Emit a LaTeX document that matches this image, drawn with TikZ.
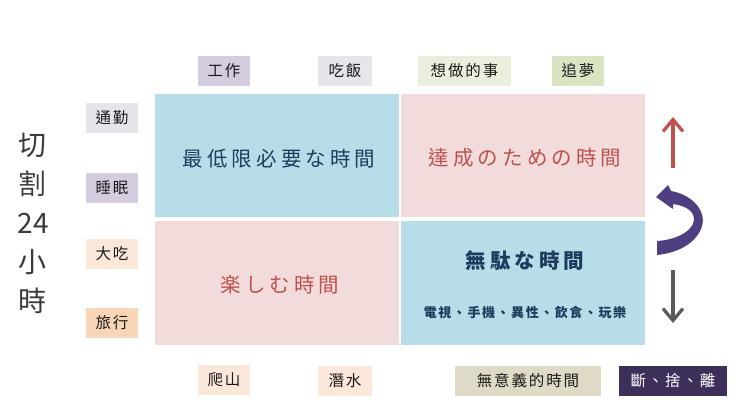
\documentclass[tikz,border=0pt]{standalone}
\usepackage{fontspec}
\newfontfamily\cjk{Noto Sans CJK TC}
\newfontfamily\cjkq[LetterSpace=20]{Noto Sans CJK TC}
\newfontfamily\cjkt[LetterSpace=12]{Noto Sans CJK TC}
\newfontfamily\cjks[LetterSpace=12]{Noto Sans CJK TC}
\usetikzlibrary{arrows.meta}
\definecolor{qblue}{HTML}{B7DDE8}
\definecolor{qpink}{HTML}{F2DCDB}
\definecolor{navy}{HTML}{1F3B5E}
\definecolor{qred}{HTML}{C0504D}
\definecolor{lav}{HTML}{D5CCE0}
\definecolor{lavl}{HTML}{E8E4EC}
\definecolor{grl}{HTML}{E9EFDC}
\definecolor{grn}{HTML}{D8E4C2}
\definecolor{peachl}{HTML}{FBE8DA}
\definecolor{peach}{HTML}{F9D5B8}
\definecolor{beige}{HTML}{DEDAC5}
\definecolor{dpurple}{HTML}{3E2F5A}
\definecolor{arrpurple}{HTML}{4F3E80}
\definecolor{arrgray}{HTML}{595959}
\definecolor{txt}{HTML}{1A1A1A}
\definecolor{ttl}{HTML}{3A3A3A}
\begin{document}
\begin{tikzpicture}[x=1pt,y=-1pt,
  tag/.style={inner sep=0pt, minimum height=30pt, text=txt, font=\cjkt\fontsize{15.5}{16}\selectfont},
  quad/.style={inner sep=0pt, minimum width=244pt},
  qtext/.style={inner sep=0pt, font=\cjkq\fontsize{20.5}{22}\selectfont},
  arr/.style={line width=3.5pt, -{Straight Barb[length=12pt,width=20pt,line width=3.2pt]}}
]
\useasboundingbox (0,0) rectangle (740,416);
\fill[white] (0,0) rectangle (740,416);
% quadrants
\node[quad, fill=qblue, minimum height=123pt] (tl) at (277,155.5) {};
\node[quad, fill=qpink, minimum height=123pt] (tr) at (523,155.5) {};
\node[quad, fill=qpink, minimum height=124pt] (bl) at (277,283) {};
\node[quad, fill=qblue, minimum height=124pt] (br) at (523,283) {};
\node[qtext, text=navy] (tlt) at (279,159) {最低限必要な時間};
\node[qtext, text=qred] (trt) at (525,158) {達成のための時間};
\node[qtext, text=qred] (blt) at (280,285) {楽しむ時間};
\node[qtext, text=navy, font=\cjkq\bfseries\fontsize{20.5}{22}\selectfont] (brt) at (525,261) {無駄な時間};
\node[inner sep=0pt, text=navy, font=\cjks\bfseries\fontsize{13}{13}\selectfont] (brs) at (525,312) {電視、手機、異性、飲食、玩樂};
% top tags
\node[tag, fill=lav, minimum width=52pt] (work) at (224,71) {工作};
\node[tag, fill=lavl, minimum width=54pt] (eat) at (345,71) {吃飯};
\node[tag, fill=grl, minimum width=93pt] (want) at (464.5,71) {想做的事};
\node[tag, fill=grn, minimum width=52pt] (dream) at (578,71) {追夢};
% left tags
\node[tag, fill=lavl, minimum width=52pt] (commute) at (112,118) {通勤};
\node[tag, fill=lav, minimum width=52pt] (sleep) at (112,188) {睡眠};
\node[tag, fill=peachl, minimum width=52pt] (feast) at (112,254) {大吃};
\node[tag, fill=peach, minimum width=52pt] (travel) at (112,322.5) {旅行};
% bottom tags
\node[tag, fill=peachl, minimum width=52pt] (hike) at (224,380) {爬山};
\node[tag, fill=peachl, minimum width=54pt] (dive) at (345,381) {潛水};
\node[tag, fill=beige, minimum width=146pt] (useless) at (528,381) {無意義的時間};
\node[tag, fill=dpurple, text=white, minimum width=108pt] (dsl) at (673,381) {斷、捨、離};
% vertical title
\node[inner sep=0pt, align=center, text=ttl, font=\cjk\fontsize{28}{39}\selectfont] (title) at (33,223) {切\\割\\24\\小\\時};
% arrows
\coordinate (upS) at (673,168);
\coordinate (upE) at (673,117);
\coordinate (dnS) at (673,270);
\coordinate (dnE) at (673,323);
\draw[arr, qred] (upS) -- (upE);
\draw[arr, arrgray] (dnS) -- (dnE);
\fill[arrpurple] (671,191) .. controls (694,195) and (708,213) .. (701,229)
  .. controls (694,245) and (676,253) .. (657,255) -- (657,241)
  .. controls (673,240) and (688,234) .. (693,224)
  .. controls (697,213) and (688,206) .. (673,204)
  -- (673,209) -- (656,197) -- (668,185) -- cycle;
\end{tikzpicture}
\end{document}
